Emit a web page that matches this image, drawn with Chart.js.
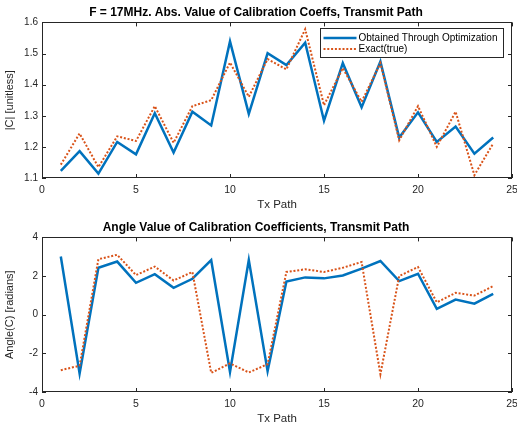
<!DOCTYPE html>
<html>
<head>
<meta charset="utf-8">
<script src="https://cdn.jsdelivr.net/npm/chart.js@4"></script>
<style>
html, body { margin: 0; padding: 0; background: #fff; }
.panel { position: absolute; left: 0; width: 517px; height: 214px; }
</style>
</head>
<body>
<div class="panel" style="top:0"><canvas id="magChart"></canvas></div>
<div class="panel" style="top:214px"><canvas id="angChart"></canvas></div>
<script>
// Tx path index (x axis)
const txPath = [1, 2, 3, 4, 5, 6, 7, 8, 9, 10, 11, 12, 13, 14, 15, 16, 17, 18, 19, 20, 21, 22, 23, 24];

// |C| values
const magOptimized = [1.123, 1.186, 1.114, 1.216, 1.176, 1.308, 1.182, 1.313, 1.269, 1.539, 1.306, 1.501,
                      1.463, 1.535, 1.284, 1.469, 1.327, 1.474, 1.230, 1.311, 1.216, 1.265, 1.178, 1.230];
const magExact = [1.143, 1.243, 1.135, 1.234, 1.219, 1.331, 1.213, 1.331, 1.350, 1.471, 1.361, 1.482,
                  1.449, 1.578, 1.334, 1.453, 1.345, 1.469, 1.221, 1.331, 1.200, 1.313, 1.109, 1.211];

// Angle(C) values, radians
const angOptimized = [3.01, -3.04, 2.43, 2.75, 1.65, 2.10, 1.39, 1.86, 2.82, -2.96, 2.83, -2.92,
                      1.72, 1.93, 1.88, 2.03, 2.38, 2.78, 1.74, 2.12, 0.30, 0.78, 0.57, 1.08];
const angExact = [-2.87, -2.64, 2.87, 3.10, 2.05, 2.49, 1.77, 2.21, -3.01, -2.52, -2.99, -2.56,
                  2.21, 2.35, 2.21, 2.43, 2.73, -3.08, 2.00, 2.47, 0.64, 1.13, 0.99, 1.48];

const seriesNames = ['Obtained Through Optimization', 'Exact(true)'];
const xTicksStep = 5;

const BLUE = '#0072BD';
const RED = '#D95319';
const AXIS_COLOR = '#262626';
const FONT = 'Liberation Sans, Arial, Helvetica, sans-serif';
const TICK = 4;

function points(ys) {
    return txPath.map((x, i) => ({ x: x, y: ys[i] }));
}

// box around the axes + inward ticks on every side
const boxPlugin = {
    id: 'box',
    afterDatasetsDraw(chart) {
        const { ctx, chartArea: a } = chart;
        const x = chart.scales.x, y = chart.scales.y;
        ctx.save();
        ctx.strokeStyle = AXIS_COLOR;
        ctx.lineWidth = 1;
        ctx.strokeRect(Math.round(a.left) + 0.5, Math.round(a.top) + 0.5,
                       Math.round(a.width) - 1, Math.round(a.height) - 1);
        ctx.beginPath();
        x.ticks.forEach(t => {
            const px = Math.round(x.getPixelForValue(t.value)) + 0.5;
            ctx.moveTo(px, a.bottom); ctx.lineTo(px, a.bottom - TICK);
            ctx.moveTo(px, a.top); ctx.lineTo(px, a.top + TICK);
        });
        y.ticks.forEach(t => {
            const py = Math.round(y.getPixelForValue(t.value)) + 0.5;
            ctx.moveTo(a.left, py); ctx.lineTo(a.left + TICK, py);
            ctx.moveTo(a.right, py); ctx.lineTo(a.right - TICK, py);
        });
        ctx.stroke();
        ctx.restore();
    }
};

// legend box inside the top-right of the plot (matlab style)
const insideLegend = {
    id: 'insideLegend',
    afterDraw(chart) {
        const { ctx, chartArea: a } = chart;
        const sets = chart.data.datasets;
        ctx.save();
        ctx.font = '10px ' + FONT;
        let textW = 0;
        sets.forEach(d => { textW = Math.max(textW, ctx.measureText(d.label).width); });
        const lineLen = 33, padL = 3.5, gap = 2, padR = 6, rowH = 11;
        const w = Math.round(padL + lineLen + gap + textW + padR);
        const h = rowH * sets.length + 7;
        const right = a.right - 9, top = Math.round(a.top + 6);
        const left = Math.round(right - w);
        ctx.fillStyle = '#fff';
        ctx.fillRect(left, top, w, h);
        ctx.strokeStyle = AXIS_COLOR;
        ctx.lineWidth = 1;
        ctx.strokeRect(left + 0.5, top + 0.5, w, h);
        sets.forEach((d, i) => {
            const cy = top + 4 + rowH * i + rowH / 2 + 0.5;
            ctx.beginPath();
            ctx.strokeStyle = d.borderColor;
            ctx.lineWidth = d.borderWidth;
            ctx.setLineDash(d.borderDash || []);
            ctx.moveTo(left + padL, cy);
            ctx.lineTo(left + padL + lineLen, cy);
            ctx.stroke();
            ctx.setLineDash([]);
            ctx.fillStyle = '#000';
            ctx.textBaseline = 'middle';
            ctx.fillText(d.label, left + padL + lineLen + gap, cy);
        });
        ctx.restore();
    }
};

function makeChart(id, opts) {
    return new Chart(document.getElementById(id), {
        type: 'line',
        data: {
            datasets: [
                { label: seriesNames[0], data: points(opts.opt), borderColor: BLUE, borderWidth: 2.5,
                  pointRadius: 0, tension: 0, order: 2 },
                { label: seriesNames[1], data: points(opts.exact), borderColor: RED, borderWidth: 2,
                  borderDash: [2, 1.8], pointRadius: 0, tension: 0, order: 1 }
            ]
        },
        options: {
            responsive: true,
            maintainAspectRatio: false,
            animation: false,
            layout: { padding: { left: 0, right: 5, top: 0, bottom: 0 } },
            plugins: {
                legend: { display: false },
                tooltip: { enabled: false },
                title: {
                    display: true,
                    text: opts.title,
                    color: '#000',
                    font: { family: FONT, size: 12, weight: 'bold' },
                    padding: { top: opts.titleTop, bottom: 3 }
                }
            },
            scales: {
                x: {
                    type: 'linear',
                    min: 0, max: 25,
                    grid: { display: false, drawTicks: false },
                    border: { display: false },
                    ticks: { stepSize: xTicksStep, color: AXIS_COLOR, padding: 6,
                             font: { family: FONT, size: 10.5 } },
                    title: { display: true, text: 'Tx Path', color: AXIS_COLOR,
                             font: { family: FONT, size: 11.5 }, padding: { top: 0, bottom: 2 } },
                    afterFit(s) { s.height = 36; s.paddingLeft = 0; s.paddingRight = 0; }
                },
                y: {
                    min: opts.yMin, max: opts.yMax,
                    grid: { display: false, drawTicks: false },
                    border: { display: false },
                    ticks: { stepSize: opts.yStep, color: AXIS_COLOR, padding: 4,
                             font: { family: FONT, size: 10 }, callback: opts.yFmt },
                    title: { display: true, text: opts.yTitle, color: AXIS_COLOR,
                             font: { family: FONT, size: 11 }, padding: { top: 3.5, bottom: 0 } },
                    afterFit(s) { s.width = 42; s.paddingTop = 0; s.paddingBottom = 0; }
                }
            }
        },
        plugins: opts.legend ? [boxPlugin, insideLegend] : [boxPlugin]
    });
}

makeChart('magChart', {
    title: 'F = 17MHz. Abs. Value of Calibration Coeffs, Transmit Path',
    titleTop: 5,
    opt: magOptimized, exact: magExact,
    yMin: 1.1, yMax: 1.6, yStep: 0.1, yFmt: v => v.toFixed(1),
    yTitle: '|C| [unitless]',
    legend: true
});

makeChart('angChart', {
    title: 'Angle Value of Calibration Coefficients, Transmit Path',
    titleTop: 6,
    opt: angOptimized, exact: angExact,
    yMin: -4, yMax: 4, yStep: 2, yFmt: v => v,
    yTitle: 'Angle(C) [radians]',
    legend: false
});
</script>
</body>
</html>
